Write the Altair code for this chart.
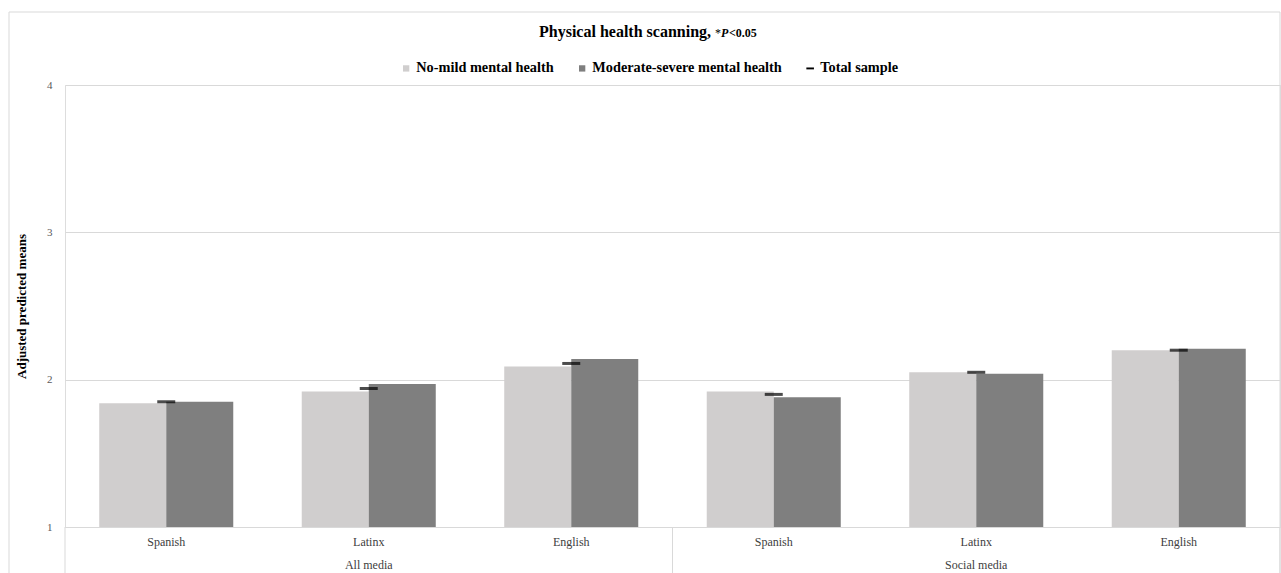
import altair as alt
import pandas as pd

# Adjusted predicted means of physical health scanning, by media type and language
media = ["All media", "All media", "All media", "Social media", "Social media", "Social media"]
language = ["Spanish", "Latinx", "English", "Spanish", "Latinx", "English"]
no_mild = [1.84, 1.92, 2.09, 1.92, 2.05, 2.20]
moderate_severe = [1.85, 1.97, 2.14, 1.88, 2.04, 2.21]
total_sample = [1.85, 1.94, 2.11, 1.90, 2.05, 2.20]

series_names = ["No-mild mental health", "Moderate-severe mental health", "Total sample"]
series_colors = ["#d0cece", "#7f7f7f", "#000000"]
series_shapes = ["square", "square", "M-1.2,-0.3L1.2,-0.3L1.2,0.3L-1.2,0.3Z"]
y_ticks = [1, 2, 3, 4]

W, H = 1215, 442
SERIF = "Liberation Serif"
GRID = "#d9d9d9"

keys = [f"{m}|{l}" for m, l in zip(media, language)]

bars_df = pd.DataFrame({
    "key": keys * 2,
    "series": [series_names[0]] * 6 + [series_names[1]] * 6,
    "value": no_mild + moderate_severe,
})
total_df = pd.DataFrame({"key": keys, "value": total_sample})
group_df = pd.DataFrame({"key": [keys[1], keys[4]], "media": ["All media", "Social media"]})
left_edges = pd.DataFrame({"key": [keys[0], keys[3]]})
right_edge = pd.DataFrame({"key": [keys[5]]})
one_row = pd.DataFrame({"k": [0]})
no_rows = pd.DataFrame({"series": pd.Series([], dtype=str)})

# each category owns a full step; the bar pair is narrowed through the offset scale
x_scale = alt.Scale(domain=keys, paddingInner=0, paddingOuter=0)
offset_scale = alt.Scale(paddingInner=0, paddingOuter=0.511)
y_scale = alt.Scale(domain=[1, 4], nice=False, zero=False)
color_scale = alt.Scale(domain=series_names, range=series_colors)
shape_scale = alt.Scale(domain=series_names, range=series_shapes)

x_axis = alt.Axis(
    title=None, labelExpr="split(datum.label, '|')[1]", labelAngle=0,
    ticks=False, domain=True, domainColor=GRID, grid=False,
    labelFont=SERIF, labelFontSize=12, labelColor="#404040", labelPadding=9,
)
y_axis = alt.Axis(
    values=y_ticks, format="d", grid=True, gridColor=GRID, domain=False, ticks=False,
    labelFont=SERIF, labelFontSize=11, labelColor="#595959", labelPadding=13,
    title="Adjusted predicted means", titleFont=SERIF, titleFontSize=13,
    titleFontWeight="bold", titleColor="#000000", titlePadding=18,
)

legend = alt.Legend(
    title=None, orient="none", legendX=334, legendY=-24, direction="horizontal",
    columns=3, padding=0, symbolSize=40, symbolStrokeWidth=0,
    labelFont=SERIF, labelFontSize=14.3, labelFontWeight="bold", labelColor="#000000",
    labelOffset=3, labelLimit=400, columnPadding=21,
)

bars = alt.Chart(bars_df).mark_bar().encode(
    x=alt.X("key:N", sort=keys, scale=x_scale, axis=x_axis),
    xOffset=alt.XOffset("series:N", sort=series_names[:2], scale=offset_scale),
    y=alt.Y("value:Q", scale=y_scale, axis=y_axis),
    y2=alt.datum(1),
    color=alt.Color("series:N", scale=color_scale, legend=legend),
)

# key layer: carries the series shapes (squares and a dash) into the legend
legend_keys = alt.Chart(no_rows).mark_point(filled=True, opacity=1).encode(
    color=alt.Color("series:N", scale=color_scale, legend=legend),
    shape=alt.Shape("series:N", scale=shape_scale, legend=legend),
)

totals = alt.Chart(total_df).mark_tick(color="#000000", thickness=3, size=18).encode(
    x=alt.X("key:N", sort=keys),
    y=alt.Y("value:Q"),
)

group_labels = alt.Chart(group_df).mark_text(
    font=SERIF, fontSize=12, color="#404040", baseline="middle"
).encode(
    x=alt.X("key:N", sort=keys),
    y=alt.value(H + 38),
    text="media:N",
)

left_rules = alt.Chart(left_edges).mark_rule(color=GRID, strokeWidth=1).encode(
    x=alt.X("key:N", sort=keys, bandPosition=0),
    y=alt.value(H), y2=alt.value(H + 60),
)
right_rules = alt.Chart(right_edge).mark_rule(color=GRID, strokeWidth=1).encode(
    x=alt.X("key:N", sort=keys, bandPosition=1),
    y=alt.value(H), y2=alt.value(H + 60),
)

# outer chart border
frame = alt.Chart(one_row).mark_rect(fillOpacity=0, stroke=GRID, strokeWidth=1).encode(
    x=alt.value(-56), x2=alt.value(W), y=alt.value(-73), y2=alt.value(H + 80),
)

star = alt.Chart(one_row).mark_text(
    font=SERIF, fontSize=12, color="#000000", align="left", baseline="alphabetic"
).encode(x=alt.value(650), y=alt.value(-48), text=alt.value("*"))
p_italic = alt.Chart(one_row).mark_text(
    font=SERIF, fontSize=12, fontStyle="italic", fontWeight="bold", color="#000000",
    align="left", baseline="alphabetic"
).encode(x=alt.value(656), y=alt.value(-48), text=alt.value("P"))
p_value = alt.Chart(one_row).mark_text(
    font=SERIF, fontSize=12, fontWeight="bold", color="#000000", align="left", baseline="alphabetic"
).encode(x=alt.value(664), y=alt.value(-48), text=alt.value("<0.05"))

chart = alt.layer(
    frame, bars, legend_keys, totals, left_rules, right_rules, group_labels, star, p_italic, p_value
).properties(
    width=W, height=H,
    title=alt.TitleParams(
        "Physical health scanning,", anchor="start", frame="group", dx=474, offset=-41,
        baseline="alphabetic",
        font=SERIF, fontSize=16, fontWeight="bold", color="#000000",
    ),
    autosize=alt.AutoSizeParams(type="none"),
    padding={"left": 65, "top": 85, "right": 1, "bottom": 46},
).configure_view(stroke=None).configure(background="white")

chart.save("out.html", embed_options={"renderer": "svg", "actions": False})
